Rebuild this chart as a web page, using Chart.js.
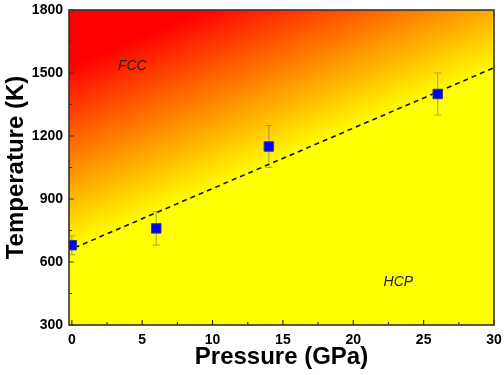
<!DOCTYPE html>
<html>
<head>
<meta charset="utf-8">
<script src="https://cdn.jsdelivr.net/npm/chart.js@4/dist/chart.umd.min.js"></script>
<style>
  html, body { margin: 0; padding: 0; background: #fff; }
  #wrap { width: 504px; height: 375px; }
</style>
</head>
<body>
<div id="wrap"><canvas id="phase"></canvas></div>
<script>
// measured points (pressure in GPa, temperature in K, error in K)
const pressure = [0, 6, 14, 26];
const temperature = [680, 760, 1150, 1400];
const tempError = [45, 80, 100, 100];

// dashed boundary line
const fitP = [0.2, 30];
const fitT = [668, 1525];

// phase labels
const phaseNames = ['FCC', 'HCP'];
const phaseP = [4.3, 23.2];
const phaseT = [1535, 505];

// ticks
const xTicks = [0, 5, 10, 15, 20, 25, 30];
const xMinor = [2.5, 7.5, 12.5, 17.5, 22.5, 27.5];
const yTicks = [300, 600, 900, 1200, 1500, 1800];
const yMinor = [450, 750, 1050, 1350, 1650];

const ctxEl = document.getElementById('phase');

// background gradient: red top-left -> yellow along the boundary
const bgPlugin = {
  id: 'bg',
  beforeDraw(chart) {
    const {ctx, chartArea: a} = chart;
    const x0 = a.left + 128, y0 = a.top + 2;
    const g = ctx.createLinearGradient(x0, y0, x0 + 0.39 * 170, y0 + 0.92 * 170);
    g.addColorStop(0, '#ff0000');
    g.addColorStop(1, '#ffff00');
    ctx.save();
    ctx.fillStyle = g;
    ctx.fillRect(a.left, a.top, a.right - a.left, a.bottom - a.top);
    ctx.restore();
  }
};

// error bars behind the markers
const errPlugin = {
  id: 'err',
  beforeDatasetsDraw(chart) {
    const {ctx, scales: {x, y}} = chart;
    ctx.save();
    ctx.strokeStyle = 'rgba(120,115,110,0.55)';
    ctx.lineWidth = 1.2;
    pressure.forEach((p, i) => {
      const px = x.getPixelForValue(p);
      const top = y.getPixelForValue(temperature[i] + tempError[i]);
      const bot = y.getPixelForValue(temperature[i] - tempError[i]);
      ctx.beginPath();
      ctx.moveTo(px, top); ctx.lineTo(px, bot);
      ctx.moveTo(px - 3.5, top); ctx.lineTo(px + 3.5, top);
      ctx.moveTo(px - 3.5, bot); ctx.lineTo(px + 3.5, bot);
      ctx.stroke();
    });
    ctx.restore();
  }
};

// frame, inward ticks, phase labels
const framePlugin = {
  id: 'frame',
  afterDraw(chart) {
    const {ctx, chartArea: a, scales: {x, y}} = chart;
    ctx.save();
    ctx.strokeStyle = '#333';
    ctx.lineWidth = 1.2;
    ctx.beginPath();
    xTicks.forEach(v => { const px = x.getPixelForValue(v); ctx.moveTo(px, a.bottom); ctx.lineTo(px, a.bottom - 5); });
    xMinor.forEach(v => { const px = x.getPixelForValue(v); ctx.moveTo(px, a.bottom); ctx.lineTo(px, a.bottom - 3); });
    yTicks.forEach(v => { const py = y.getPixelForValue(v); ctx.moveTo(a.left, py); ctx.lineTo(a.left + 5, py); });
    yMinor.forEach(v => { const py = y.getPixelForValue(v); ctx.moveTo(a.left, py); ctx.lineTo(a.left + 3, py); });
    ctx.stroke();
    ctx.lineWidth = 1.6;
    ctx.strokeRect(a.left, a.top, a.right - a.left, a.bottom - a.top);

    ctx.fillStyle = '#222';
    ctx.font = 'italic 14px "Liberation Sans", Arial, sans-serif';
    ctx.textAlign = 'center';
    ctx.textBaseline = 'middle';
    phaseNames.forEach((t, i) => {
      ctx.fillText(t, x.getPixelForValue(phaseP[i]), y.getPixelForValue(phaseT[i]));
    });
    ctx.restore();
  }
};

const tickFont = { family: '"Liberation Sans", Arial, sans-serif', size: 14, weight: 'bold' };
const titleFont = { family: '"Liberation Sans", Arial, sans-serif', size: 24, weight: 'bold' };

new Chart(ctxEl, {
  type: 'scatter',
  data: {
    datasets: [
      {
        type: 'line',
        data: fitP.map((p, i) => ({ x: p, y: fitT[i] })),
        borderColor: '#111',
        borderWidth: 1.6,
        borderDash: [5, 4],
        pointRadius: 0,
        fill: false,
        order: 2
      },
      {
        data: pressure.map((p, i) => ({ x: p, y: temperature[i] })),
        pointStyle: 'rect',
        pointRadius: 6.7,
        backgroundColor: '#0000ff',
        borderColor: '#3a3a8a',
        borderWidth: 1,
        order: 1
      }
    ]
  },
  options: {
    responsive: true,
    maintainAspectRatio: false,
    animation: false,
    layout: { padding: { top: 10, right: 10, left: 0, bottom: 0 } },
    plugins: { legend: { display: false }, tooltip: { enabled: false } },
    scales: {
      x: {
        type: 'linear',
        min: -0.2,
        max: 30,
        afterBuildTicks: s => { s.ticks = xTicks.map(v => ({ value: v })); },
        afterFit: s => { s.height = 50; s.paddingLeft = 0; s.paddingRight = 0; },
        grid: { display: false, drawTicks: false },
        border: { display: false },
        ticks: { color: '#000', font: tickFont, padding: 7, maxRotation: 0, callback: v => String(v) },
        title: { display: true, text: 'Pressure (GPa)', color: '#000', font: titleFont, padding: { top: 0, bottom: 3 } }
      },
      y: {
        type: 'linear',
        min: 300,
        max: 1800,
        afterBuildTicks: s => { s.ticks = yTicks.map(v => ({ value: v })); },
        afterFit: s => { s.width = 69; s.paddingTop = 0; s.paddingBottom = 0; },
        grid: { display: false, drawTicks: false },
        border: { display: false },
        ticks: { color: '#000', font: tickFont, padding: 6, callback: v => String(v) },
        title: { display: true, text: 'Temperature (K)', color: '#000', font: titleFont, padding: { top: 2, bottom: 0 } }
      }
    }
  },
  plugins: [bgPlugin, errPlugin, framePlugin]
});
</script>
</body>
</html>
